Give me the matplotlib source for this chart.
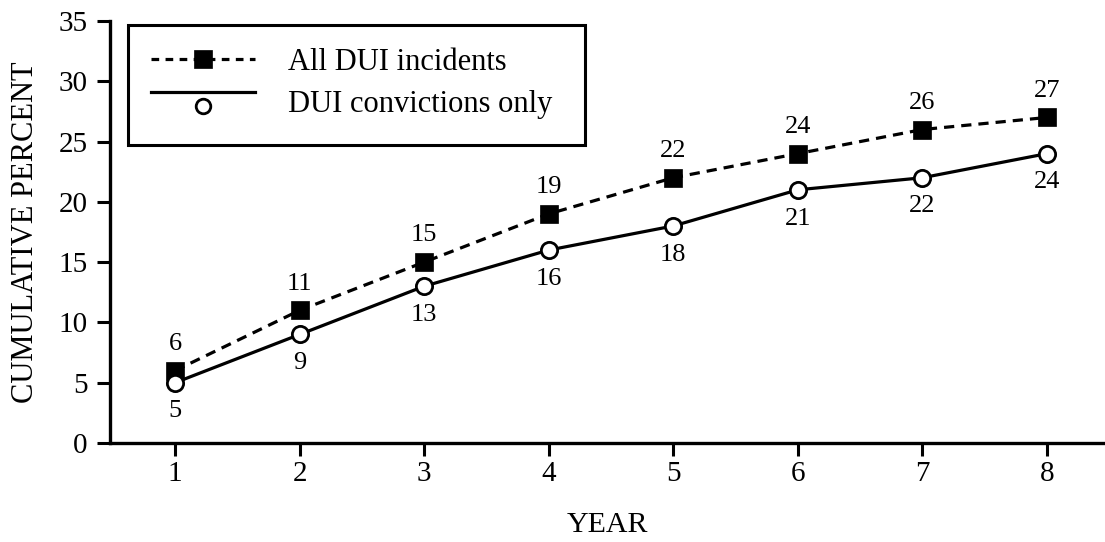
import matplotlib
matplotlib.use("Agg")
import matplotlib.pyplot as plt
from matplotlib.lines import Line2D
from matplotlib.patches import Rectangle
from matplotlib.legend_handler import HandlerBase

years = [1, 2, 3, 4, 5, 6, 7, 8]
all_dui = [6, 11, 15, 19, 22, 24, 26, 27]
convictions = [5, 9, 13, 16, 18, 21, 22, 24]
series_labels = ["All DUI incidents", "DUI convictions only"]

plt.rcParams['font.family'] = ['Liberation Serif', 'DejaVu Serif']
W, H = 1105, 542
fig = plt.figure(figsize=(W / 100, H / 100), dpi=100)
ax = fig.add_axes([110 / W, 1 - 443 / H, (W - 110) / W, (443 - 21) / H])

LW = 2.3
dash = (0, (3.2, 2.2))
sq_kw = dict(marker='s', markersize=13.2, markerfacecolor='black',
             markeredgecolor='black', markeredgewidth=0.5)
ci_kw = dict(marker='o', markersize=11.7, markerfacecolor='white',
             markeredgecolor='black', markeredgewidth=2.0)

ax.plot(years, all_dui, color='black', linestyle=dash, linewidth=LW, zorder=3, **sq_kw)
ax.plot(years, convictions, color='black', linestyle='-', linewidth=LW, zorder=4, **ci_kw)

for x, y in zip(years, all_dui):
    ax.annotate(str(y), (x, y), xytext=(0, 15), textcoords='offset points',
                ha='center', va='baseline', fontsize=19)
for x, y in zip(years, convictions):
    ax.annotate(str(y), (x, y), xytext=(0, -25), textcoords='offset points',
                ha='center', va='baseline', fontsize=19)

ax.set_xlim(0.478, 8.466)
ax.set_ylim(0, 35)
ax.set_yticks(range(0, 36, 5))
ax.set_xticks(years)
for s in ['top', 'right']:
    ax.spines[s].set_visible(False)
for s in ['left', 'bottom']:
    ax.spines[s].set_linewidth(2.4)
ax.tick_params(axis='both', direction='out', length=9.5, width=2.2, labelsize=21)
ax.tick_params(axis='x', pad=3.6)
ax.tick_params(axis='y', pad=6.5)

ax.set_xlabel("YEAR", fontsize=21.5, labelpad=18)
ax.set_ylabel("CUMULATIVE PERCENT", fontsize=22, labelpad=13)


class OffsetHandler(HandlerBase):
    def __init__(self, line_kw, marker_kw, line_dy=0.0, marker_dy=0.0):
        super().__init__()
        self.line_kw = line_kw
        self.marker_kw = marker_kw
        self.line_dy = line_dy
        self.marker_dy = marker_dy

    def create_artists(self, legend, orig_handle, xdescent, ydescent, width, height,
                       fontsize, trans):
        yc = (height - ydescent) / 2.0
        x0, x1 = -xdescent, width - xdescent
        line = Line2D([x0, x1], [yc + self.line_dy] * 2, **self.line_kw)
        mk = Line2D([(x0 + x1) / 2.0], [yc + self.marker_dy], linestyle='none',
                    **self.marker_kw)
        line.set_transform(trans)
        mk.set_transform(trans)
        return [line, mk]


h1 = Line2D([], [])
h2 = Line2D([], [])
hmap = {
    h1: OffsetHandler(dict(color='black', linestyle=(0, (2.4, 2.0)), linewidth=LW),
                      dict(sq_kw, markersize=12.5)),
    h2: OffsetHandler(dict(color='black', linestyle='-', linewidth=LW),
                      dict(ci_kw, markersize=10.5),
                      line_dy=6.7, marker_dy=-3.7),
}
leg = ax.legend([h1, h2], series_labels, handler_map=hmap, loc='upper left',
                bbox_to_anchor=(128 / W, 1 - 25 / H), bbox_transform=fig.transFigure,
                borderaxespad=0, fontsize=22, frameon=False,
                handlelength=3.4, handleheight=0.7, borderpad=0.75,
                labelspacing=0.43, handletextpad=1.1)

# legend frame box
fig.add_artist(Rectangle((128 / W, 1 - 145 / H), 457 / W, 120 / H,
                         transform=fig.transFigure, fill=False, edgecolor='black',
                         linewidth=2.2, zorder=5))

fig.savefig("out.png", dpi=100)
